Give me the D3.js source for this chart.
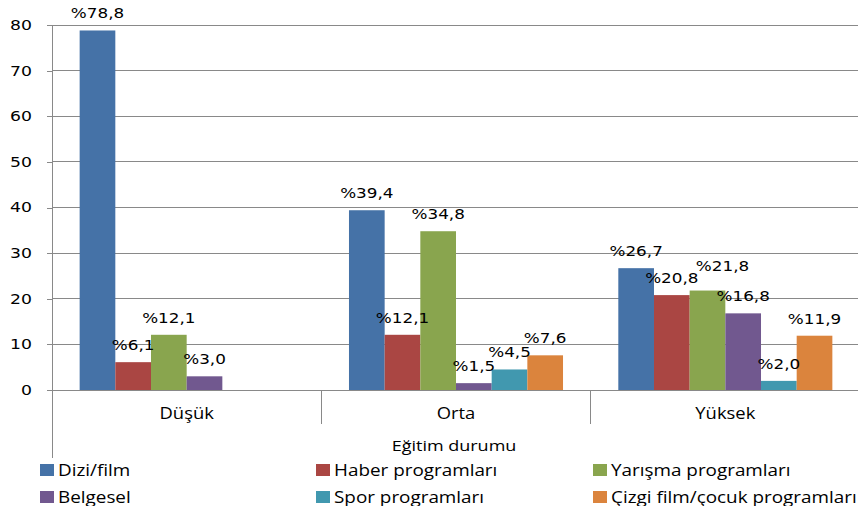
<!DOCTYPE html>
<html><head><meta charset="utf-8">
<script src="https://cdn.jsdelivr.net/npm/d3@7"></script>
<style>body{margin:0;background:#fff}svg{display:block}</style>
</head><body><svg id="c" width="858" height="506"></svg>
<script>
const categories = ["Düşük", "Orta", "Yüksek"];
const seriesNames = ["Dizi/film", "Haber programları", "Yarışma programları", "Belgesel", "Spor programları", "Çizgi film/çocuk programları"];
const colors = ["#4572A7", "#AA4643", "#89A54E", "#71588F", "#4198AF", "#DB843D"];
// values[series][category], null = no bar
const diziFilm = [78.8, 39.4, 26.7];
const haber = [6.1, 12.1, 20.8];
const yarisma = [12.1, 34.8, 21.8];
const belgesel = [3.0, 1.5, 16.8];
const spor = [null, 4.5, 2.0];
const cizgi = [null, 7.6, 11.9];
const values = [diziFilm, haber, yarisma, belgesel, spor, cizgi];
const yTicks = [0, 10, 20, 30, 40, 50, 60, 70, 80];
const axisTitle = "Eğitim durumu";

(function () {
const svg = d3.select("#c");
const pL = 52, pR = 860, pT = 25, pB = 390;
const x = d3.scaleBand().domain(categories).range([pL, pR]).paddingInner(0).paddingOuter(0);
const xs = d3.scaleBand().domain(d3.range(seriesNames.length)).range([0, x.bandwidth()]).paddingInner(0).paddingOuter(0.775);
const y = d3.scaleLinear().domain([0, 80]).range([pB, pT]);

function stxt(g, tx, ty, str, opts) {
  const gg = g.append("g").attr("transform", `translate(${tx},${ty}) scale(${opts.sx||1},1)`);
  gg.append("text").attr("x", 0).attr("y", 0)
    .attr("text-anchor", opts.anchor || "start")
    .attr("dominant-baseline", opts.baseline || "auto")
    .attr("font-family", opts.font).attr("font-size", opts.size)
    .attr("fill", "#000").text(str);
}

// gridlines
svg.append("g").selectAll("line").data(yTicks.filter(d => d > 0)).join("line")
  .attr("x1", pL).attr("x2", 858).attr("y1", d => y(d)).attr("y2", d => y(d))
  .attr("stroke", "#898989").attr("stroke-width", 1).attr("shape-rendering", "crispEdges");

// y axis
const yAxis = d3.axisLeft(y).tickValues(yTicks).tickSize(5).tickFormat("");
const ya = svg.append("g").attr("transform", `translate(${pL},0)`).call(yAxis);
ya.select(".domain").remove();
ya.selectAll("line").attr("stroke", "#898989").attr("shape-rendering", "crispEdges");
svg.append("line").attr("x1", pL).attr("x2", pL).attr("y1", pT).attr("y2", 458)
  .attr("stroke", "#898989").attr("shape-rendering", "crispEdges");
const ylab = svg.append("g");
yTicks.forEach(t => stxt(ylab, 32, y(t), String(t), {anchor: "end", baseline: "central", font: "DejaVu Sans", size: 14, sx: 1.23}));

// bars
const bars = svg.append("g");
values.forEach((vals, si) => {
  vals.forEach((v, ci) => {
    if (v == null) return;
    const bx = x(categories[ci]) + xs(si);
    bars.append("rect").attr("x", bx).attr("y", y(v)).attr("width", xs.bandwidth()).attr("height", y(0) - y(v))
      .attr("fill", colors[si]);
  });
});

// x axis
svg.append("line").attr("x1", pL).attr("x2", 858).attr("y1", y(0)).attr("y2", y(0))
  .attr("stroke", "#898989").attr("shape-rendering", "crispEdges");
categories.slice(1).forEach(c => {
  svg.append("line").attr("x1", x(c)).attr("x2", x(c)).attr("y1", y(0)).attr("y2", 424)
    .attr("stroke", "#898989").attr("shape-rendering", "crispEdges");
});

// value labels (one label nudged as in the reference to avoid overlap)
const labelNudge = {"2,2": [15, -8]};
const labs = svg.append("g");
values.forEach((vals, si) => {
  vals.forEach((v, ci) => {
    if (v == null) return;
    const nd = labelNudge[si + "," + ci] || [0, 0];
    const cx = x(categories[ci]) + xs(si) + xs.bandwidth() / 2 + nd[0];
    stxt(labs, cx, y(v) - 12 + nd[1], "%" + v.toFixed(1).replace(".", ","), {anchor: "middle", font: "DejaVu Sans", size: 14, sx: 1.2});
  });
});

// category labels
categories.forEach(c => {
  stxt(svg, x(c) + x.bandwidth() / 2, 419, c, {anchor: "middle", font: "Open Sans", size: 16, sx: 1.15});
});
stxt(svg, 454, 451, axisTitle, {anchor: "middle", font: "Open Sans", size: 15, sx: 1.2});

// legend
const colX = [40, 316, 593];
const rowY = [464, 491];
seriesNames.forEach((n, i) => {
  const cx = colX[i % 3], cy = rowY[Math.floor(i / 3)];
  svg.append("rect").attr("x", cx).attr("y", cy).attr("width", 14).attr("height", 12).attr("fill", colors[i]);
  stxt(svg, cx + 18, cy + 11.5, n, {font: "Open Sans", size: 16, sx: 1.18});
});
})();
</script></body></html>
